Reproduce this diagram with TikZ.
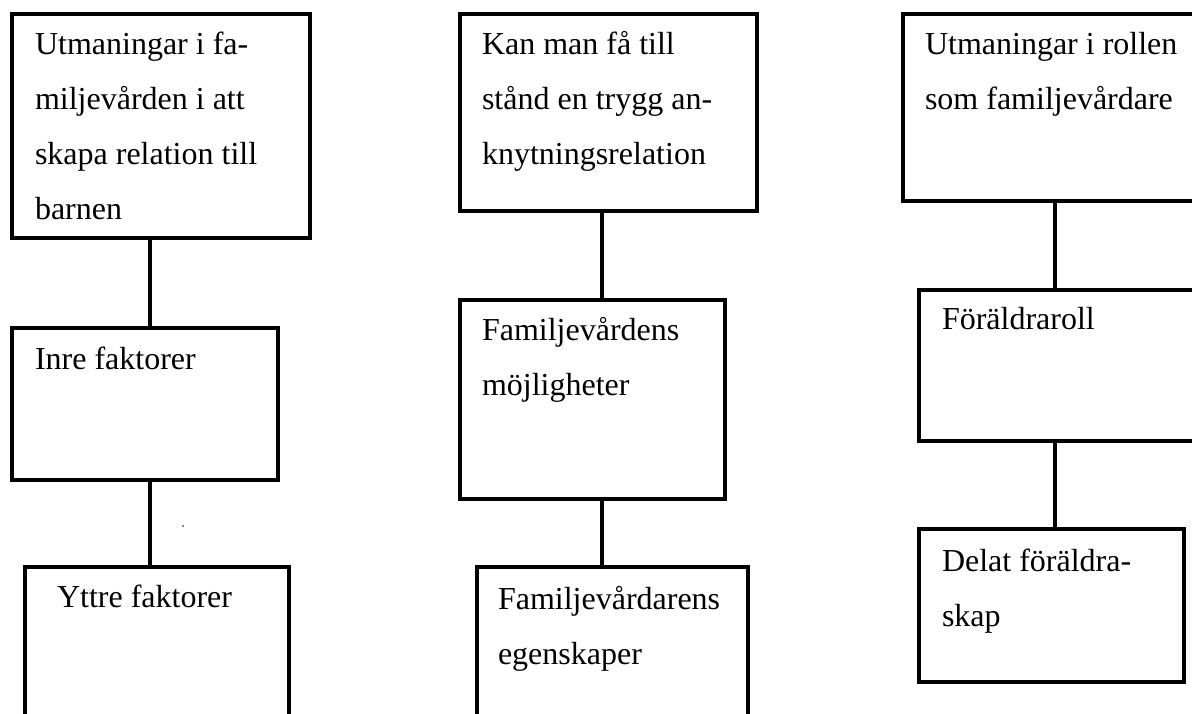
\documentclass[tikz,border=0pt]{standalone}
\usepackage{fontspec}
\setmainfont{Liberation Serif}
\newcommand{\boxtext}[1]{\parbox[t]{300pt}{\raggedright\fontsize{32}{55}\selectfont #1}}
\begin{document}
\begin{tikzpicture}[x=1pt,y=-1pt,
  box/.style={draw=black, line width=4pt, rectangle, inner sep=0pt, fill=none},
  txt/.style={anchor=base west, inner sep=0pt, outer sep=0pt},
  conn/.style={draw=black, line width=4pt}]
\useasboundingbox (0,0) rectangle (1192,714);
\fill[white] (0,0) rectangle (1192,714);
% column 1
\node[box, minimum width=298pt, minimum height=224pt] (A1) at (161,126) {};
\node[box, minimum width=266pt, minimum height=152pt] (A2) at (145,404) {};
\node[box, minimum width=264pt, minimum height=193pt] (A3) at (157,663.5) {};
\coordinate (c1) at (150,0);
\node[txt] (tA1) at (35,55) {\boxtext{Utmaningar i fa-\\miljevården i att\\skapa relation till\\barnen}};
\node[txt] (tA2) at (35,369) {\boxtext{Inre faktorer}};
\node[txt] (tA3) at (57,607) {\boxtext{Yttre faktorer}};
\draw[conn] (A1.south -| c1) -- (A2.north -| c1);
\draw[conn] (A2.south -| c1) -- (A3.north -| c1);
\fill[black] (183,526) circle (0.9pt);
% column 2
\node[box, minimum width=297pt, minimum height=197pt] (B1) at (608.5,112.5) {};
\node[box, minimum width=265pt, minimum height=199pt] (B2) at (592.5,399.5) {};
\node[box, minimum width=271pt, minimum height=193pt] (B3) at (612.5,663.5) {};
\coordinate (c2) at (602,0);
\node[txt] (tB1) at (482,55) {\boxtext{Kan man få till\\stånd en trygg an-\\knytningsrelation}};
\node[txt] (tB2) at (482,340) {\boxtext{Familjevårdens\\möjligheter}};
\node[txt] (tB3) at (498,609) {\boxtext{Familjevårdarens\\egenskaper}};
\draw[conn] (B1.south -| c2) -- (B2.north -| c2);
\draw[conn] (B2.south -| c2) -- (B3.north -| c2);
% column 3
\node[box, minimum width=307pt, minimum height=187pt] (C1) at (1056.5,107.5) {};
\node[box, minimum width=291pt, minimum height=151pt] (C2) at (1064.5,365.5) {};
\node[box, minimum width=265pt, minimum height=153pt] (C3) at (1051.5,605.5) {};
\coordinate (c3) at (1055,0);
\node[txt] (tC1) at (925,55) {\boxtext{Utmaningar i rollen\\som familjevårdare}};
\node[txt] (tC2) at (942,330) {\boxtext{Föräldraroll}};
\node[txt] (tC3) at (942,571) {\boxtext{Delat föräldra-\\skap}};
\draw[conn] (C1.south -| c3) -- (C2.north -| c3);
\draw[conn] (C2.south -| c3) -- (C3.north -| c3);
\end{tikzpicture}
\end{document}
